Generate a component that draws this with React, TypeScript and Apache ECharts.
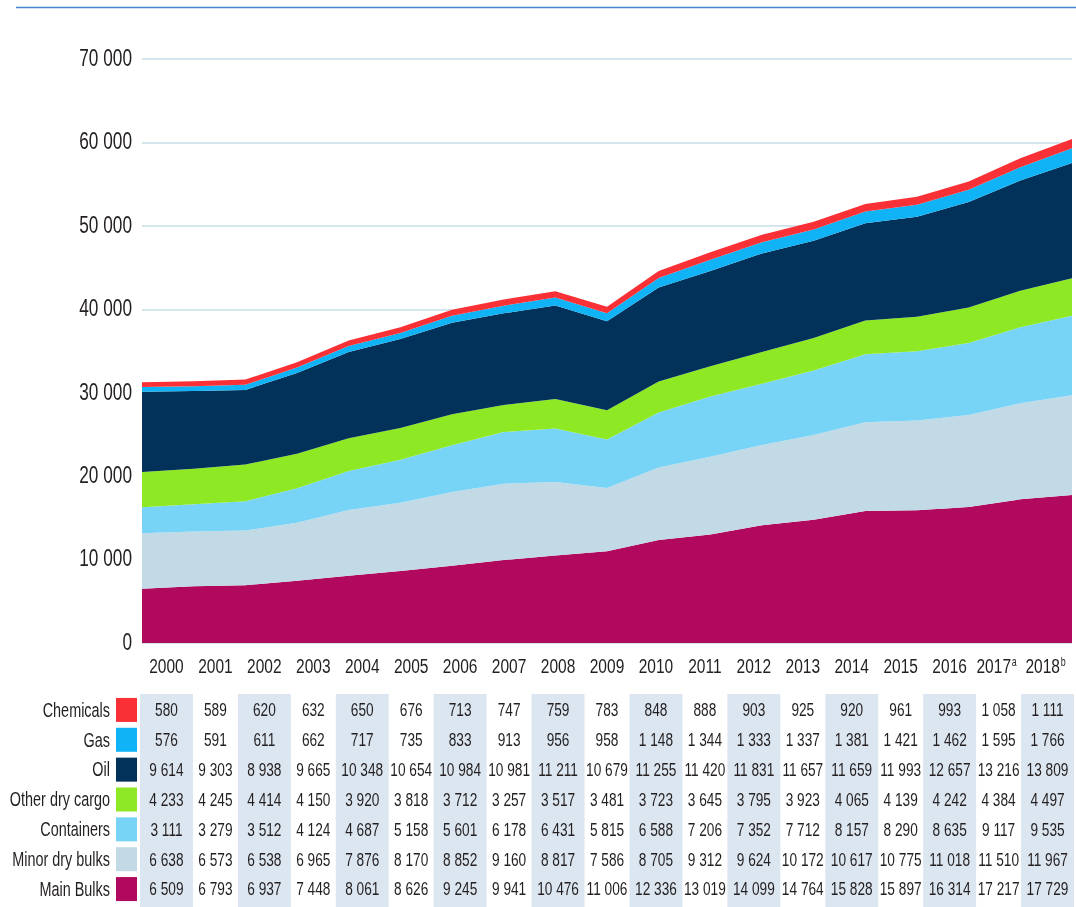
import React, { useEffect, useRef } from "react";
import * as echarts from "echarts";

const years = ["2000","2001","2002","2003","2004","2005","2006","2007","2008","2009","2010","2011","2012","2013","2014","2015","2016","2017","2018"];
const yearNotes: Record<string, string> = { "2017": "a", "2018": "b" };
const yTicks = [0, 10000, 20000, 30000, 40000, 50000, 60000, 70000];

const chemicals = [580,589,620,632,650,676,713,747,759,783,848,888,903,925,920,961,993,1058,1111];
const gas = [576,591,611,662,717,735,833,913,956,958,1148,1344,1333,1337,1381,1421,1462,1595,1766];
const oil = [9614,9303,8938,9665,10348,10654,10984,10981,11211,10679,11255,11420,11831,11657,11659,11993,12657,13216,13809];
const otherDryCargo = [4233,4245,4414,4150,3920,3818,3712,3257,3517,3481,3723,3645,3795,3923,4065,4139,4242,4384,4497];
const containers = [3111,3279,3512,4124,4687,5158,5601,6178,6431,5815,6588,7206,7352,7712,8157,8290,8635,9117,9535];
const minorDryBulks = [6638,6573,6538,6965,7876,8170,8852,9160,8817,7586,8705,9312,9624,10172,10617,10775,11018,11510,11967];
const mainBulks = [6509,6793,6937,7448,8061,8626,9245,9941,10476,11006,12336,13019,14099,14764,15828,15897,16314,17217,17729];

// table rows, top to bottom
const rowNames = ["Chemicals","Gas","Oil","Other dry cargo","Containers","Minor dry bulks","Main Bulks"];
const rowValues = [chemicals, gas, oil, otherDryCargo, containers, minorDryBulks, mainBulks];
const rowColors = ["#f93137","#10b3f6","#02315a","#8fe824","#77d4f6","#c2d9e6","#b0095e"];

const FONT = '"Liberation Sans", Arial, sans-serif';
const TXT = "#231f20";

const fmt = (v: number) => String(v).replace(/\B(?=(\d{3})+(?!\d))/g, " ");

export default function App() {
  const ref = useRef<HTMLDivElement>(null);
  useEffect(() => {
    if (!ref.current) return;
    const chart = echarts.init(ref.current, null, { renderer: "svg" });

    const stackOrder = [6, 5, 4, 3, 2, 1, 0];
    const areaSeries = stackOrder.map((r) => ({
      name: rowNames[r],
      type: "line",
      xAxisIndex: 0,
      yAxisIndex: 0,
      stack: "total",
      data: rowValues[r],
      showSymbol: false,
      symbol: "none",
      lineStyle: { width: 0 },
      areaStyle: { color: rowColors[r], opacity: 1 },
      itemStyle: { color: rowColors[r] },
      silent: true,
      z: 2,
    }));

    const cells: number[][] = [];
    rowValues.forEach((arr, r) => arr.forEach((v, c) => cells.push([c, r, v])));
    const shaded = years.map((_, i) => i).filter((i) => i % 2 === 0).map((i) => [i, 0]);

    chart.setOption({
      animation: false,
      graphic: [
        { type: "line", shape: { x1: 16, y1: 7.5, x2: 1076, y2: 7.5 }, style: { stroke: "#4a86cf", lineWidth: 1.5 } },
      ],
      grid: [
        { left: 142, right: 4, top: 59, height: 584 },
        { left: 142, right: 4, top: 695, height: 209 },
      ],
      xAxis: [
        {
          type: "category", gridIndex: 0, data: years, boundaryGap: false,
          axisLine: { show: false }, axisTick: { show: false }, axisLabel: { show: false }, splitLine: { show: false },
        },
        {
          type: "category", gridIndex: 0, data: years, boundaryGap: true, position: "bottom",
          axisLine: { show: false }, axisTick: { show: false }, axisLabel: { show: false }, splitLine: { show: false },
        },
        {
          type: "category", gridIndex: 1, data: years, boundaryGap: true,
          axisLine: { show: false }, axisTick: { show: false }, axisLabel: { show: false }, splitLine: { show: false },
        },
      ],
      yAxis: [
        {
          type: "value", gridIndex: 0, min: 0, max: 70000, interval: 10000,
          axisLine: { show: false }, axisTick: { show: false }, axisLabel: { show: false },
          splitLine: { lineStyle: { color: "#c7dce7", width: 1.5 } },
        },
        {
          type: "category", gridIndex: 1, data: rowNames, inverse: true,
          axisLine: { show: false }, axisTick: { show: false }, axisLabel: { show: false }, splitLine: { show: false },
        },
      ],
      series: [
        ...areaSeries,
        // y-axis tick labels (narrow)
        {
          type: "custom", xAxisIndex: 0, yAxisIndex: 0, silent: true, z: 5, clip: false,
          data: yTicks.map((v) => [0, v]),
          renderItem: (params: any, api: any) => {
            const p = api.coord([0, api.value(1)]);
            return {
              type: "text", x: p[0] - 10, y: p[1] - 1, scaleX: 0.75,
              style: { text: fmt(api.value(1)), fill: TXT, fontSize: 23, fontFamily: FONT, align: "right", verticalAlign: "middle" },
            };
          },
        },
        // year labels
        {
          type: "custom", xAxisIndex: 1, yAxisIndex: 0, silent: true, z: 5, clip: false,
          data: years.map((_, i) => [i, 0]),
          renderItem: (params: any, api: any) => {
            const i = api.value(0);
            const p = api.coord([i, 0]);
            const y = years[i];
            const note = yearNotes[y];
            return {
              type: "text", x: p[0] + (note ? -2 : 0), y: p[1] + 23, scaleX: 0.74,
              style: {
                text: note ? `{y|${y}}{s|${note}}` : `{y|${y}}`,
                align: "center", verticalAlign: "middle",
                rich: {
                  y: { fontSize: 21, fill: TXT, fontFamily: FONT, lineHeight: 22 },
                  s: { fontSize: 12, fill: TXT, fontFamily: FONT, lineHeight: 22, verticalAlign: "top", padding: [0, 0, 8, 1] },
                },
              },
            };
          },
        },
        // table column shading
        {
          type: "custom", xAxisIndex: 2, yAxisIndex: 1, silent: true, z: 1, clip: false,
          data: shaded,
          renderItem: (params: any, api: any) => {
            const p = api.coord([api.value(0), 0]);
            const bw = api.size([1, 0])[0];
            const cs = params.coordSys;
            return {
              type: "rect",
              shape: { x: p[0] - bw / 2 - 2, y: cs.y - 1, width: bw + 4, height: 907 - cs.y + 1 },
              style: { fill: "#dce6f0" },
            };
          },
        },
        // row labels with colour keys
        {
          type: "custom", xAxisIndex: 2, yAxisIndex: 1, silent: true, z: 5, clip: false,
          data: rowNames.map((_, r) => [0, r]),
          renderItem: (params: any, api: any) => {
            const r = api.value(1);
            const p = api.coord([0, r]);
            const left = params.coordSys.x;
            return {
              type: "group",
              children: [
                { type: "rect", shape: { x: left - 26, y: p[1] - 12, width: 21, height: 24 }, style: { fill: rowColors[r] } },
                {
                  type: "text", x: left - 32, y: p[1], scaleX: 0.74,
                  style: { text: rowNames[r], fill: TXT, fontSize: 19.5, fontFamily: FONT, align: "right", verticalAlign: "middle" },
                },
              ],
            };
          },
        },
        // table values
        {
          type: "custom", xAxisIndex: 2, yAxisIndex: 1, silent: true, z: 5, clip: false,
          data: cells,
          renderItem: (params: any, api: any) => {
            const p = api.coord([api.value(0), api.value(1)]);
            return {
              type: "text", x: p[0], y: p[1], scaleX: 0.72,
              style: { text: fmt(api.value(2)), fill: TXT, fontSize: 19, fontFamily: FONT, align: "center", verticalAlign: "middle" },
            };
          },
        },
      ],
    });
    return () => chart.dispose();
  }, []);
  return <div ref={ref} style={{ position: "fixed", left: 0, top: 0, width: 1076, height: 907 }} />;
}
